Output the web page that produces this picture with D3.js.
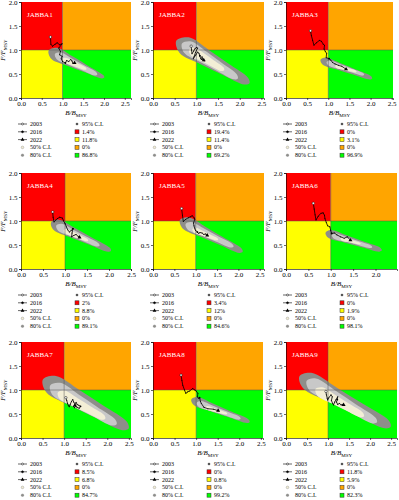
<!DOCTYPE html>
<html>
<head>
<meta charset="utf-8">
<script src="https://cdn.jsdelivr.net/npm/d3@7"></script>
<style>
  body { margin: 0; background: #fff; }
  svg { font-family: "Liberation Serif", "DejaVu Serif", serif; }
  .axis text { font-size: 7px; font-family: "Liberation Serif", serif; }
  .axis path, .axis line { stroke: #000; stroke-width: 0.6; }
</style>
</head>
<body>
<script>
// Kobe plots, one per JABBA scenario
var panels = ["JABBA1", "JABBA2", "JABBA3", "JABBA4", "JABBA5", "JABBA6", "JABBA7", "JABBA8", "JABBA9"];
var xMax = [2.65, 2.56, 2.53, 2.5, 2.6, 2.48, 2.55, 2.55, 2.64];

// probability of each quadrant
var redPct    = ["1.4%", "19.4%", "0%", "2%", "3.4%", "0%", "8.5%", "0%", "11.8%"];
var yellowPct = ["11.8%", "11.4%", "3.1%", "8.8%", "12%", "1.9%", "6.8%", "0.8%", "5.9%"];
var orangePct = ["0%", "0%", "0%", "0%", "0%", "0%", "0%", "0%", "0%"];
var greenPct  = ["86.8%", "69.2%", "96.9%", "89.1%", "84.6%", "98.1%", "84.7%", "99.2%", "82.3%"];

var yearLabels = ["2003", "2016", "2022"];
var markIndex = 13; // 2016 in 2003..2022

// B/Bmsy, F/Fmsy trajectories 2003-2022
var trajectories = [
  [[0.71,1.27],[0.72,1.12],[0.76,1.08],[0.82,1.12],[0.87,1.15],[0.93,1.11],[0.99,1.13],[0.91,1.04],[0.95,0.97],[0.93,0.90],[0.99,0.87],[0.97,0.82],[1.0,0.76],[1.07,0.73],[1.1,0.78],[1.15,0.76],[1.2,0.8],[1.23,0.77],[1.25,0.72],[1.29,0.73]],
  [[0.88,1.08],[0.89,1.0],[0.9,0.92],[0.94,0.98],[0.97,1.03],[1.0,1.05],[1.03,1.04],[0.98,0.95],[0.95,0.87],[0.93,0.82],[0.99,0.9],[1.03,0.96],[1.06,0.93],[1.08,0.88],[1.1,0.82],[1.12,0.8],[1.13,0.86],[1.15,0.8],[1.18,0.77],[1.17,0.79]],
  [[0.58,1.4],[0.6,1.3],[0.63,1.2],[0.66,1.1],[0.72,1.15],[0.79,1.2],[0.84,1.18],[0.88,1.12],[0.91,1.1],[0.9,1.02],[0.93,0.97],[0.96,0.93],[0.95,0.84],[1.02,0.82],[1.06,0.79],[1.1,0.74],[1.16,0.71],[1.24,0.68],[1.32,0.66],[1.42,0.6]],
  [[0.72,1.19],[0.73,1.08],[0.75,0.98],[0.79,1.02],[0.83,1.05],[0.88,1.08],[0.94,1.06],[0.97,1.0],[1.0,0.95],[1.03,0.88],[1.06,0.82],[1.1,0.77],[1.14,0.8],[1.18,0.84],[1.16,0.75],[1.15,0.67],[1.2,0.7],[1.25,0.72],[1.3,0.68],[1.33,0.66]],
  [[0.67,1.26],[0.69,1.12],[0.71,0.99],[0.76,1.03],[0.83,1.07],[0.88,1.09],[0.92,1.11],[0.96,1.07],[0.98,1.04],[0.95,0.96],[0.96,0.9],[0.98,0.84],[1.0,0.8],[1.04,0.77],[1.07,0.74],[1.1,0.76],[1.15,0.75],[1.19,0.72],[1.23,0.73],[1.27,0.7]],
  [[0.61,1.37],[0.63,1.25],[0.65,1.13],[0.67,1.02],[0.72,1.1],[0.78,1.16],[0.83,1.17],[0.86,1.12],[0.87,1.05],[0.9,0.97],[0.93,0.9],[0.98,0.88],[1.0,0.8],[1.02,0.74],[1.08,0.75],[1.14,0.71],[1.22,0.67],[1.3,0.64],[1.37,0.67],[1.44,0.6]],
  [[1.04,0.84],[1.06,0.78],[1.08,0.72],[1.1,0.67],[1.12,0.65],[1.14,0.7],[1.17,0.76],[1.2,0.8],[1.22,0.75],[1.25,0.72],[1.28,0.74],[1.3,0.7],[1.34,0.68],[1.38,0.66],[1.35,0.62],[1.3,0.64],[1.27,0.66],[1.24,0.63],[1.22,0.66],[1.25,0.68]],
  [[0.65,1.31],[0.67,1.2],[0.69,1.1],[0.73,1.0],[0.76,0.93],[0.8,0.96],[0.85,0.98],[0.92,1.03],[0.97,1.0],[1.0,0.98],[1.04,0.93],[1.03,0.86],[1.05,0.83],[1.08,0.84],[1.1,0.76],[1.12,0.72],[1.18,0.64],[1.27,0.61],[1.4,0.6],[1.51,0.57]],
  [[0.95,0.97],[0.96,0.9],[0.98,0.83],[0.99,0.79],[1.02,0.84],[1.07,0.9],[1.1,0.86],[1.08,0.78],[1.11,0.72],[1.13,0.69],[1.16,0.75],[1.19,0.8],[1.23,0.86],[1.22,0.8],[1.2,0.75],[1.23,0.7],[1.27,0.72],[1.31,0.69],[1.34,0.7],[1.37,0.69]]
];

// confidence regions: [B1, F1, B2, F2, halfwidth1, halfwidth2] (upper-left end, lower-right end)
var ci95 = [
  [0.8,0.93,1.97,0.44,0.13,0.035],
  [0.72,1.1,2.15,0.35,0.19,0.08],
  [0.9,0.77,2.0,0.42,0.08,0.035],
  [0.8,0.92,2.0,0.4,0.12,0.045],
  [0.76,0.96,2.05,0.38,0.13,0.05],
  [0.97,0.73,2.1,0.4,0.085,0.04],
  [0.7,1.12,2.4,0.25,0.2,0.1],
  [0.98,0.77,2.2,0.35,0.09,0.04],
  [0.5,1.2,2.4,0.28,0.18,0.09]
];
var ci80 = [
  [0.9,0.88,1.8,0.5,0.08,0.035],
  [0.8,1.06,1.9,0.44,0.14,0.06],
  [1.02,0.73,1.82,0.49,0.055,0.025],
  [0.88,0.87,1.75,0.5,0.08,0.035],
  [0.85,0.9,1.85,0.48,0.085,0.035],
  [1.08,0.69,1.9,0.46,0.055,0.025],
  [0.82,1.02,2.15,0.32,0.15,0.07],
  [1.08,0.71,2.0,0.41,0.065,0.03],
  [0.63,1.12,2.1,0.36,0.14,0.065]
];
var ci50 = [
  [1.05,0.79,1.55,0.61,0.05,0.025],
  [0.92,0.97,1.6,0.6,0.09,0.045],
  [1.2,0.66,1.65,0.55,0.035,0.018],
  [1.02,0.79,1.5,0.6,0.05,0.025],
  [0.98,0.81,1.5,0.62,0.055,0.025],
  [1.25,0.63,1.65,0.53,0.035,0.018],
  [0.95,0.9,1.9,0.43,0.1,0.055],
  [1.25,0.63,1.7,0.51,0.04,0.02],
  [0.8,0.97,1.8,0.48,0.1,0.055]
];

var colors = {red: "#ff0000", orange: "#ffa500", yellow: "#ffff00", green: "#00ff00",
              c95: "#8e8e8a", c80: "#c8c8c8", c50: "#f3eed6"};

var colLeft = [21, 153, 286],
    rowTop = [2, 173, 342],
    panelW = [110, 111, 107, 110, 111, 111, 110, 110, 111],
    ph = 96;

var svg = d3.select("body").append("svg")
    .attr("width", 399)
    .attr("height", 500);

var smooth = d3.line().curve(d3.curveCatmullRomClosed.alpha(0.5));

// outline of one confidence band, built in pixel space from the two ends
function band(c, x, y) {
  var unit = y(0) - y(1);
  var a = [x(c[0]), y(c[1])], b = [x(c[2]), y(c[3])];
  var dx = b[0] - a[0], dy = b[1] - a[1], len = Math.hypot(dx, dy);
  var d = [dx / len, dy / len], n = [-d[1], d[0]];
  var wa = c[4] * unit, wb = c[5] * unit;
  function at(t, s) {
    var w = (wa + (wb - wa) * t) * (t > 0 && t < 1 ? 1.12 : 1);
    return [a[0] + dx * t + n[0] * w * s, a[1] + dy * t + n[1] * w * s];
  }
  return [
    [a[0] - d[0] * wa, a[1] - d[1] * wa],
    at(0, 1), at(0.33, 1), at(0.66, 1), at(1, 1),
    [b[0] + d[0] * wb, b[1] + d[1] * wb],
    at(1, -1), at(0.66, -1), at(0.33, -1), at(0, -1)
  ];
}

panels.forEach(function(name, i) {
  var left = colLeft[i % 3], top = rowTop[Math.floor(i / 3)], pw = panelW[i];

  var x = d3.scaleLinear().domain([0, xMax[i]]).range([left, left + pw]);
  var y = d3.scaleLinear().domain([0, 2]).range([top + ph, top]);

  var g = svg.append("g").attr("class", "panel");

  g.append("clipPath").attr("id", "clip" + i)
    .append("rect")
    .attr("x", x(0)).attr("y", y(2))
    .attr("width", x(xMax[i]) - x(0)).attr("height", y(0) - y(2));

  // quadrants
  var quads = [
    {x0: 0, x1: 1, y0: 1, y1: 2, c: colors.red},
    {x0: 1, x1: xMax[i], y0: 1, y1: 2, c: colors.orange},
    {x0: 0, x1: 1, y0: 0, y1: 1, c: colors.yellow},
    {x0: 1, x1: xMax[i], y0: 0, y1: 1, c: colors.green}
  ];
  g.selectAll("rect.quad").data(quads).enter().append("rect")
    .attr("class", "quad")
    .attr("x", function(d) { return x(d.x0); })
    .attr("y", function(d) { return y(d.y1); })
    .attr("width", function(d) { return x(d.x1) - x(d.x0); })
    .attr("height", function(d) { return y(d.y0) - y(d.y1); })
    .attr("fill", function(d) { return d.c; });

  // confidence regions
  var cg = g.append("g").attr("clip-path", "url(#clip" + i + ")");
  [[ci95[i], colors.c95], [ci80[i], colors.c80], [ci50[i], colors.c50]].forEach(function(r) {
    cg.append("path")
      .attr("d", smooth(band(r[0], x, y)))
      .attr("fill", r[1]);
  });

  // reference lines
  g.append("line")
    .attr("x1", x(1)).attr("x2", x(1)).attr("y1", y(0)).attr("y2", y(2))
    .attr("stroke", "#555").attr("stroke-width", 0.5);
  g.append("line")
    .attr("x1", x(0)).attr("x2", x(xMax[i])).attr("y1", y(1)).attr("y2", y(1))
    .attr("stroke", "#555").attr("stroke-width", 0.5);

  // trajectory
  var tr = trajectories[i];
  g.append("path")
    .datum(tr)
    .attr("d", d3.line().x(function(d) { return x(d[0]); }).y(function(d) { return y(d[1]); }))
    .attr("fill", "none")
    .attr("stroke", "#000")
    .attr("stroke-width", 0.8);
  g.selectAll("circle.pt").data(tr).enter().append("circle")
    .attr("class", "pt")
    .attr("cx", function(d) { return x(d[0]); })
    .attr("cy", function(d) { return y(d[1]); })
    .attr("r", 0.5)
    .attr("fill", "#000");
  g.append("circle")
    .attr("cx", x(tr[0][0])).attr("cy", y(tr[0][1])).attr("r", 1.2)
    .attr("fill", "#fff").attr("stroke", "#000").attr("stroke-width", 0.5);
  g.append("circle")
    .attr("cx", x(tr[markIndex][0])).attr("cy", y(tr[markIndex][1])).attr("r", 0.9)
    .attr("fill", "#000");
  g.append("path")
    .attr("d", d3.symbol(d3.symbolTriangle, 7)())
    .attr("transform", "translate(" + x(tr[tr.length - 1][0]) + "," + y(tr[tr.length - 1][1]) + ")")
    .attr("fill", "#000");

  // axes
  g.append("g").attr("class", "axis")
    .attr("transform", "translate(0," + y(0) + ")")
    .call(d3.axisBottom(x).tickValues(d3.range(0, xMax[i] + 0.001, 0.5)).tickFormat(d3.format(".1f")).tickSize(2).tickPadding(1.5));
  g.append("g").attr("class", "axis")
    .attr("transform", "translate(" + x(0) + ",0)")
    .call(d3.axisLeft(y).tickValues([0, 0.5, 1, 1.5, 2]).tickFormat(d3.format(".1f")).tickSize(2).tickPadding(1.5));

  // panel label
  g.append("text")
    .attr("x", x(0) + 6).attr("y", y(2) + 15)
    .attr("fill", "#fff").attr("font-size", 7)
    .text(name);

  // axis titles
  var xt = g.append("text")
    .attr("x", left + pw / 2).attr("y", y(0) + 17)
    .attr("text-anchor", "middle").attr("font-size", 7);
  xt.append("tspan").attr("font-style", "italic").text("B/B");
  xt.append("tspan").attr("font-size", 5).attr("dy", 1.5).text("MSY");

  var yt = g.append("text")
    .attr("transform", "translate(" + (left - 16) + "," + (top + ph / 2) + ") rotate(-90)")
    .attr("text-anchor", "middle").attr("font-size", 7);
  yt.append("tspan").attr("font-style", "italic").text("F/F");
  yt.append("tspan").attr("font-size", 5).attr("dy", 1.5).text("MSY");

  // legend
  var ly = y(0) + 28, step = 7.8;
  var lg = g.append("g").attr("font-size", 6);
  var lx1 = left - 3, lx2 = left + 56;

  yearLabels.forEach(function(lab, k) {
    var yy = ly + k * step;
    lg.append("line").attr("x1", lx1).attr("x2", lx1 + 9).attr("y1", yy - 2).attr("y2", yy - 2)
      .attr("stroke", "#000").attr("stroke-width", 0.6);
    if (k === 2) {
      lg.append("path").attr("d", d3.symbol(d3.symbolTriangle, 6)())
        .attr("transform", "translate(" + (lx1 + 4.5) + "," + (yy - 2) + ")").attr("fill", "#000");
    } else {
      lg.append("circle").attr("cx", lx1 + 4.5).attr("cy", yy - 2).attr("r", 1)
        .attr("fill", k === 0 ? "#fff" : "#000").attr("stroke", "#000").attr("stroke-width", 0.5);
    }
    lg.append("text").attr("x", lx1 + 12).attr("y", yy).text(lab);
  });
  [["50% C.I.", colors.c50], ["80% C.I.", colors.c95]].forEach(function(e, k) {
    var yy = ly + (k + 3) * step;
    lg.append("circle").attr("cx", lx1 + 4.5).attr("cy", yy - 2).attr("r", 1.3)
      .attr("fill", e[1]).attr("stroke", "#888").attr("stroke-width", 0.4);
    lg.append("text").attr("x", lx1 + 12).attr("y", yy).text(e[0]);
  });

  var sq = [["95% C.I.", "#555"], [redPct[i], colors.red], [yellowPct[i], colors.yellow],
            [orangePct[i], colors.orange], [greenPct[i], colors.green]];
  sq.forEach(function(e, k) {
    var yy = ly + k * step;
    if (k === 0) {
      lg.append("circle").attr("cx", lx2).attr("cy", yy - 2).attr("r", 1.3).attr("fill", e[1]);
    } else {
      lg.append("rect").attr("x", lx2 - 2).attr("y", yy - 4).attr("width", 4).attr("height", 4)
        .attr("fill", e[1]).attr("stroke", "#333").attr("stroke-width", 0.5);
    }
    lg.append("text").attr("x", lx2 + 5).attr("y", yy).text(e[0]);
  });
});
</script>
</body>
</html>
